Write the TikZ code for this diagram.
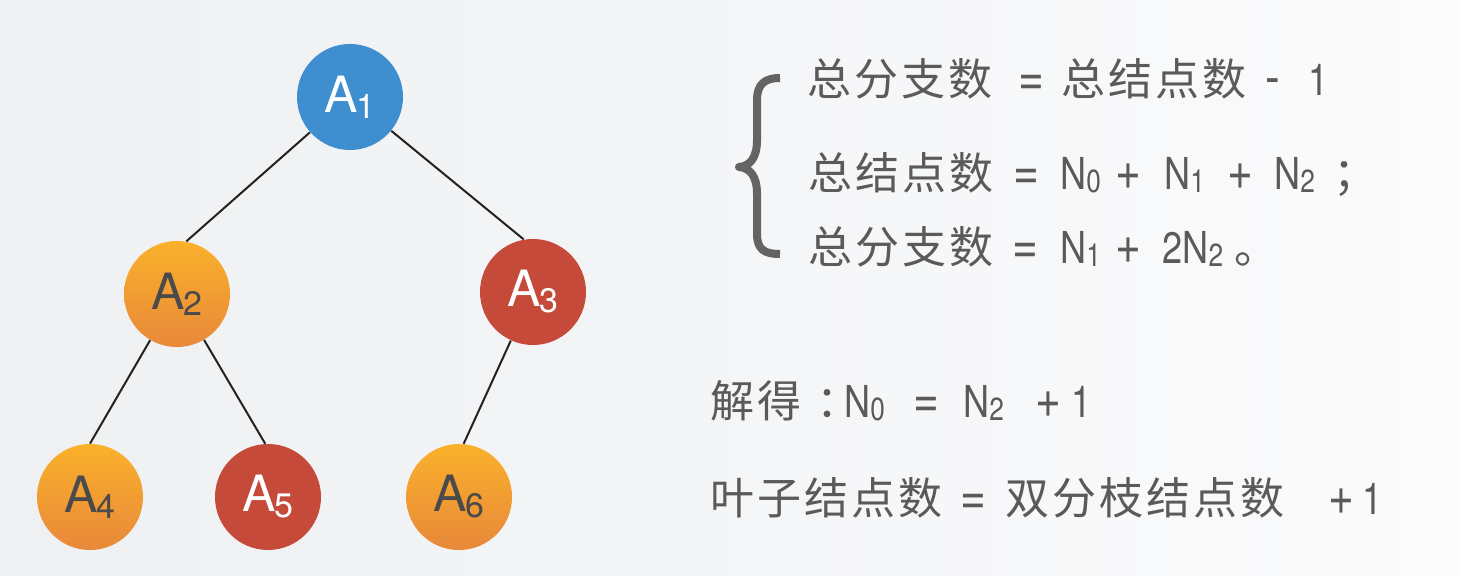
\documentclass[tikz,border=0pt]{standalone}
\usepackage{fontspec}
\setmainfont{TeX Gyre Heros}
\newfontfamily\zhfam[LetterSpace=7]{Noto Sans CJK SC}
\newfontfamily\zhhalf[CharacterWidth=AlternateHalf]{Noto Sans CJK SC}
\newfontfamily\latfam[FakeStretch=0.82]{TeX Gyre Heros}
\newlength\pxu \setlength\pxu{0.5pt}
\newcommand\tk[2]{\makebox[#1\pxu][l]{#2}}
\newcommand\zh[1]{{\zhfam\fontsize{22}{26}\selectfont #1}}
\newcommand\zhh[1]{{\zhhalf\fontsize{22}{26}\selectfont #1}}
\newcommand\lattxt[1]{{\latfam\fontsize{22}{26}\selectfont #1}}
\newcommand\opx[1]{{\latfam\fontsize{27}{30}\selectfont #1}}
\newcommand\Ns[1]{\lattxt{N}\raisebox{-1.5pt}{\latfam\fontsize{16}{18}\selectfont #1}}
\newcommand\alab[1]{{\fontsize{25}{25}\selectfont A\kern-1pt\raisebox{-3pt}{\fontsize{17}{17}\selectfont #1}}}
\definecolor{bgL}{HTML}{EEF0F2}
\definecolor{bgR}{HTML}{FBFBFC}
\definecolor{nblue}{HTML}{3F8ED0}
\definecolor{nred}{HTML}{C64A3A}
\definecolor{oTop}{HTML}{FAB12B}
\definecolor{oBot}{HTML}{E8883A}
\definecolor{txt}{HTML}{5A5A5A}
\definecolor{darklab}{HTML}{4A4A4A}
\definecolor{brc}{HTML}{646464}
\definecolor{edgec}{HTML}{222222}
\tikzset{
  tnode/.style={circle, minimum size=53pt, inner sep=0pt},
  bluenode/.style={tnode, fill=nblue, text=white},
  rednode/.style={tnode, fill=nred, text=white},
  orangenode/.style={tnode, top color=oTop, bottom color=oBot, text=darklab},
  branch/.style={draw=edgec, line width=1pt},
  eq/.style={anchor=base west, inner sep=0pt, text=txt},
  bracestroke/.style={draw=brc, line width=4pt, line join=round}
}
\begin{document}
\begin{tikzpicture}[x=0.5pt, y=-0.5pt]
\useasboundingbox (0,0) rectangle (1460,576);
\shade[left color=bgL, right color=bgR] (0,0) rectangle (1460,576);
% tree
\node[bluenode]   (A1) at (350,97)  {\alab{1}};
\node[orangenode] (A2) at (177,294) {\alab{2}};
\node[rednode]    (A3) at (533,292) {\alab{3}};
\node[orangenode] (A4) at (90,497)  {\alab{4}};
\node[rednode]    (A5) at (268,497) {\alab{5}};
\node[orangenode] (A6) at (459,497) {\alab{6}};
\draw[branch] (A1) -- (A2.80);
\draw[branch] (A1) -- (A3.100);
\draw[branch] (A2) -- (A4.90);
\draw[branch] (A2) -- (A5.93);
\draw[branch] (A3) -- (A6.85);
% brace
\draw[bracestroke] (780,78) .. controls (765,78) and (757,84) .. (757,100) -- (757,140)
  .. controls (757,158) and (750,166) .. (739,167)
  .. controls (750,168) and (757,176) .. (757,194) -- (757,234)
  .. controls (757,250) and (765,254) .. (780,254);
% equations
\node[eq] (l1) at (807,96) {\tk{211}{\zh{总分支数}}\tk{43}{\opx{=}}\tk{204}{\zh{总结点数}}\tk{43}{\opx{-}}\lattxt{1}};
\node[eq] (l2) at (808,190) {\tk{205}{\zh{总结点数}}\tk{47}{\opx{=}}\tk{55}{\Ns{0}}\tk{49}{\opx{+}}\tk{63}{\Ns{1}}\tk{47}{\opx{+}}\tk{59}{\Ns{2}}\zh{；}};
\node[eq] (l3) at (808,264) {\tk{204}{\zh{总分支数}}\tk{48}{\opx{=}}\tk{55}{\Ns{1}}\tk{47}{\opx{+}}\tk{72}{\lattxt{2}\Ns{2}}\zh{。}};
\node[eq] (l4) at (710,418) {\tk{106}{\zh{解得}}\tk{28}{\zhh{：}}\tk{69}{\Ns{0}}\tk{50}{\opx{=}}\tk{72}{\Ns{2}}\tk{36}{\opx{+}}\lattxt{1}};
\node[eq] (l5) at (710,514) {\tk{250}{\zh{叶子结点数}}\tk{45}{\opx{=}}\tk{323}{\zh{双分枝结点数}}\tk{34}{\opx{+}}\lattxt{1}};
\end{tikzpicture}
\end{document}
